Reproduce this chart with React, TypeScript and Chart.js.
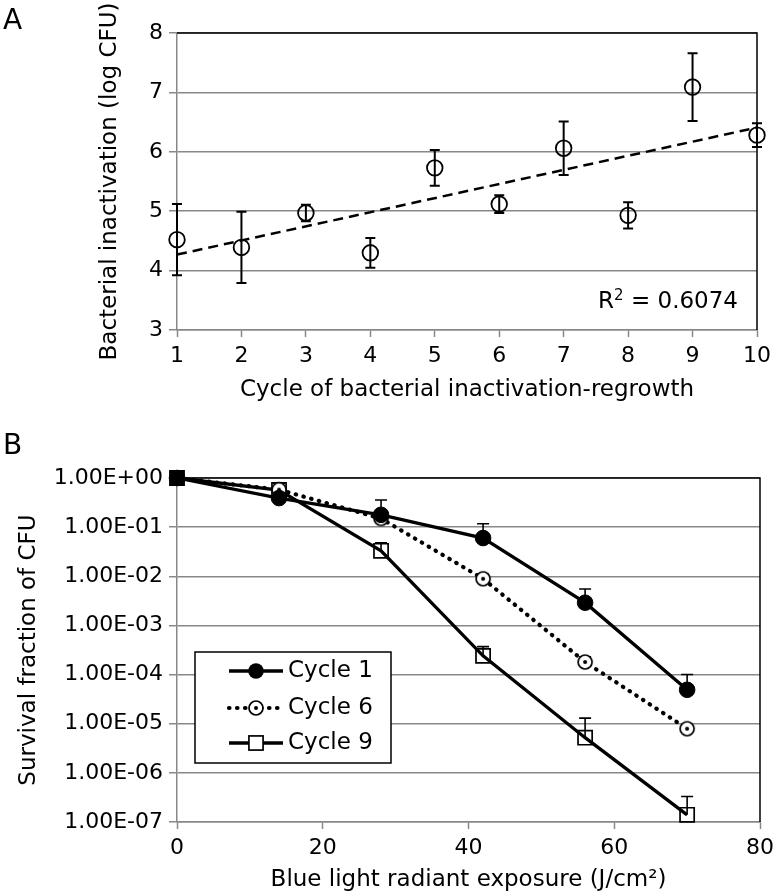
import React, { useEffect, useRef } from 'react';
import { Chart, registerables } from 'chart.js';

Chart.register(...registerables);

const FONT = "'DejaVu Sans', 'Liberation Sans', Arial, sans-serif";
const GRID = '#888888';
const INK = '#000000';

// ---------- Panel A data ----------
const cycles = [1, 2, 3, 4, 5, 6, 7, 8, 9, 10];
const inactivation = [4.52, 4.39, 4.97, 4.3, 5.73, 5.12, 6.06, 4.93, 7.09, 6.28];
const inactivationSd = [0.6, 0.6, 0.14, 0.25, 0.3, 0.15, 0.45, 0.22, 0.57, 0.2];
const rSquaredText = '0.6074';
const titleA_x = 'Cycle of bacterial inactivation-regrowth';
const titleA_y = 'Bacterial inactivation (log CFU)';

// ---------- Panel B data ----------
const exposure = [0, 14, 28, 42, 56, 70];
const cycle1Survival = [1, 0.39, 0.178, 0.06, 0.0029, 4.9e-5];
const cycle1Upper = [1, 0.39, 0.357, 0.117, 0.0055, 1.0e-4];
const cycle6Survival = [1, 0.58, 0.15, 0.0089, 1.8e-4, 7.9e-6];
const cycle6Upper = [1, 0.58, 0.15, 0.011, 2.3e-4, 9.0e-6];
const cycle9Survival = [1, 0.57, 0.033, 2.4e-4, 5.2e-6, 1.4e-7];
const cycle9Upper = [1, 0.78, 0.048, 3.7e-4, 1.3e-5, 3.3e-7];
const seriesLabels = ['Cycle 1', 'Cycle 6', 'Cycle 9'];
const yTicksB = [1, 1e-1, 1e-2, 1e-3, 1e-4, 1e-5, 1e-6, 1e-7];
const titleB_x = 'Blue light radiant exposure (J/cm\u00B2)';
const titleB_y = 'Survival fraction of CFU';

function linearFit(xs: number[], ys: number[]) {
  const n = xs.length;
  const mx = xs.reduce((a, b) => a + b, 0) / n;
  const my = ys.reduce((a, b) => a + b, 0) / n;
  let sxy = 0, sxx = 0;
  for (let i = 0; i < n; i++) {
    sxy += (xs[i] - mx) * (ys[i] - my);
    sxx += (xs[i] - mx) * (xs[i] - mx);
  }
  const slope = sxy / sxx;
  return { slope, intercept: my - slope * mx };
}

function sciLabel(v: number) {
  const e = Math.round(Math.log10(v));
  return '1.00E' + (e < 0 ? '-' : '+') + String(Math.abs(e)).padStart(2, '0');
}

function makeDotCircle(r: number) {
  const s = Math.ceil(2 * r + 4);
  const c = document.createElement('canvas');
  c.width = s;
  c.height = s;
  const ctx = c.getContext('2d')!;
  ctx.beginPath();
  ctx.arc(s / 2, s / 2, r, 0, Math.PI * 2);
  ctx.fillStyle = '#fff';
  ctx.fill();
  ctx.lineWidth = 1.7;
  ctx.strokeStyle = INK;
  ctx.stroke();
  ctx.beginPath();
  ctx.arc(s / 2, s / 2, 2, 0, Math.PI * 2);
  ctx.fillStyle = INK;
  ctx.fill();
  return c;
}

const errorBarPlugin = (capHalf: number, width: number, when: 'before' | 'after') => {
  const draw = (chart: any) => {
    const { ctx } = chart;
    const xs = chart.scales.x;
    const ys = chart.scales.y;
    chart.data.datasets.forEach((ds: any) => {
      if (!ds.errLow && !ds.errHigh) return;
      ds.data.forEach((p: any, i: number) => {
        const lo = ds.errLow ? ds.errLow[i] : p.y;
        const hi = ds.errHigh ? ds.errHigh[i] : p.y;
        if (lo === hi) return;
        const x = xs.getPixelForValue(p.x);
        const y1 = ys.getPixelForValue(lo);
        const y2 = ys.getPixelForValue(hi);
        ctx.save();
        ctx.strokeStyle = INK;
        ctx.lineWidth = width;
        ctx.beginPath();
        ctx.moveTo(x, y1);
        ctx.lineTo(x, y2);
        if (ds.errLow && lo !== p.y) {
          ctx.moveTo(x - capHalf, y1);
          ctx.lineTo(x + capHalf, y1);
        }
        if (hi !== p.y) {
          ctx.moveTo(x - capHalf, y2);
          ctx.lineTo(x + capHalf, y2);
        }
        ctx.stroke();
        ctx.restore();
      });
    });
  };
  return when === 'before'
    ? { id: 'errbars', beforeDatasetsDraw: draw }
    : { id: 'errbars', afterDatasetsDraw: draw };
};

const framePlugin = {
  id: 'frame',
  afterDraw(chart: any) {
    const { ctx, chartArea } = chart;
    const { left, right, top, bottom } = chartArea;
    ctx.save();
    ctx.strokeStyle = INK;
    ctx.lineWidth = 1.5;
    ctx.beginPath();
    ctx.moveTo(left, top);
    ctx.lineTo(right, top);
    ctx.lineTo(right, bottom);
    ctx.stroke();
    ctx.restore();
  },
};

const panelLabel = (text: string, y: number) => ({
  id: 'panelLabel',
  afterDraw(chart: any) {
    const { ctx } = chart;
    ctx.save();
    ctx.font = `28px ${FONT}`;
    ctx.fillStyle = INK;
    ctx.textBaseline = 'middle';
    ctx.textAlign = 'left';
    ctx.fillText(text, 3, y);
    ctx.restore();
  },
});

const r2Plugin = {
  id: 'r2',
  afterDraw(chart: any) {
    const { ctx, chartArea } = chart;
    const right = chartArea.right - 19;
    const base = chartArea.bottom - 22;
    ctx.save();
    ctx.fillStyle = INK;
    ctx.textBaseline = 'alphabetic';
    ctx.textAlign = 'left';
    const big = `23px ${FONT}`;
    const small = `15px ${FONT}`;
    ctx.font = big;
    const wR = ctx.measureText('R').width;
    const rest = ' = ' + rSquaredText;
    const wRest = ctx.measureText(rest).width;
    ctx.font = small;
    const w2 = ctx.measureText('2').width;
    let x = right - wRest - w2 - wR;
    ctx.font = big;
    ctx.fillText('R', x, base);
    x += wR;
    ctx.font = small;
    ctx.fillText('2', x, base - 8);
    x += w2;
    ctx.font = big;
    ctx.fillText(rest, x, base);
    ctx.restore();
  },
};

const legendPlugin = {
  id: 'customLegend',
  afterDraw(chart: any) {
    const { ctx, chartArea } = chart;
    const bx = chartArea.left + 18;
    const by = chartArea.top + 174;
    const bw = 196;
    const bh = 111;
    ctx.save();
    ctx.fillStyle = '#fff';
    ctx.fillRect(bx, by, bw, bh);
    ctx.strokeStyle = INK;
    ctx.lineWidth = 1.5;
    ctx.strokeRect(bx, by, bw, bh);
    const rows = [19, 56, 91];
    chart.data.datasets.forEach((ds: any, i: number) => {
      const y = by + rows[i];
      const x0 = bx + 34;
      const x1 = bx + 88;
      const xm = bx + 61;
      ctx.save();
      ctx.strokeStyle = ds.borderColor;
      ctx.lineWidth = ds.borderWidth;
      ctx.lineCap = ds.borderCapStyle || 'butt';
      ctx.setLineDash(ds.borderDash || []);
      ctx.beginPath();
      ctx.moveTo(x0, y);
      ctx.lineTo(x1, y);
      ctx.stroke();
      ctx.restore();
      const ps = ds.pointStyle;
      if (ps instanceof HTMLCanvasElement) {
        ctx.drawImage(ps, xm - ps.width / 2, y - ps.height / 2);
      } else if (ps === 'circle') {
        ctx.beginPath();
        ctx.arc(xm, y, ds.pointRadius, 0, Math.PI * 2);
        ctx.fillStyle = INK;
        ctx.fill();
      } else if (ps === 'rect') {
        const h = ds.pointRadius * Math.SQRT1_2;
        ctx.fillStyle = '#fff';
        ctx.fillRect(xm - h, y - h, 2 * h, 2 * h);
        ctx.lineWidth = ds.pointBorderWidth;
        ctx.strokeStyle = INK;
        ctx.strokeRect(xm - h, y - h, 2 * h, 2 * h);
      }
      ctx.fillStyle = INK;
      ctx.font = `23px ${FONT}`;
      ctx.textBaseline = 'middle';
      ctx.textAlign = 'left';
      ctx.fillText(ds.label, bx + 93, y);
    });
    ctx.restore();
  },
};

function configA(): any {
  const fit = linearFit(cycles, inactivation);
  const x0 = cycles[0];
  const x1 = cycles[cycles.length - 1];
  return {
    type: 'scatter',
    data: {
      datasets: [
        {
          label: 'Inactivation',
          data: cycles.map((x, i) => ({ x, y: inactivation[i] })),
          errLow: inactivation.map((v, i) => v - inactivationSd[i]),
          errHigh: inactivation.map((v, i) => v + inactivationSd[i]),
          showLine: false,
          pointStyle: 'circle',
          pointRadius: 7.8,
          pointBorderWidth: 1.8,
          pointBorderColor: INK,
          pointBackgroundColor: 'rgba(0,0,0,0)',
          clip: false,
        },
        {
          label: 'Linear fit',
          data: [
            { x: x0, y: fit.intercept + fit.slope * x0 },
            { x: x1, y: fit.intercept + fit.slope * x1 },
          ],
          showLine: true,
          borderColor: INK,
          borderWidth: 2.5,
          borderDash: [10, 6],
          pointRadius: 0,
          clip: false,
        },
      ],
    },
    options: {
      responsive: false,
      animation: false,
      devicePixelRatio: 1,
      layout: { padding: { left: 96, right: 23, top: 33, bottom: 0 } },
      plugins: { legend: { display: false }, tooltip: { enabled: false } },
      scales: {
        x: {
          type: 'linear',
          min: 1,
          max: 10,
          afterFit: (s: any) => { s.height = 80; },
          ticks: { stepSize: 1, padding: 6, font: { size: 22, family: FONT }, color: INK, maxRotation: 0 },
          grid: { drawOnChartArea: false, drawTicks: true, tickLength: 7, tickColor: GRID, tickWidth: 1.5 },
          border: { color: GRID, width: 1.5 },
          title: { display: true, text: titleA_x, color: INK, font: { size: 23, family: FONT }, padding: { top: 0, bottom: 6 } },
        },
        y: {
          type: 'linear',
          min: 3,
          max: 8,
          afterFit: (s: any) => { s.width = 81; },
          ticks: { stepSize: 1, padding: 6, font: { size: 22, family: FONT }, color: INK },
          grid: { color: GRID, lineWidth: 1.5, tickLength: 8, tickColor: GRID, tickWidth: 1.5 },
          border: { color: GRID, width: 1.5 },
          title: { display: true, text: titleA_y, color: INK, font: { size: 23, family: FONT }, padding: { top: 0, bottom: 0 } },
        },
      },
    },
    plugins: [framePlugin, errorBarPlugin(5, 2, 'after'), r2Plugin, panelLabel('A', 22)],
  };
}

function configB(): any {
  const dotCircle = makeDotCircle(7);
  return {
    type: 'scatter',
    data: {
      datasets: [
        {
          label: seriesLabels[0],
          data: exposure.map((x, i) => ({ x, y: cycle1Survival[i] })),
          errHigh: cycle1Upper,
          showLine: true,
          borderColor: INK,
          borderWidth: 3.3,
          pointStyle: 'circle',
          pointRadius: 7.8,
          pointBorderWidth: 1,
          pointBorderColor: INK,
          pointBackgroundColor: INK,
          clip: false,
        },
        {
          label: seriesLabels[1],
          data: exposure.map((x, i) => ({ x, y: cycle6Survival[i] })),
          errHigh: cycle6Upper,
          showLine: true,
          borderColor: INK,
          borderWidth: 4.2,
          borderDash: [0.5, 7.5],
          borderCapStyle: 'round',
          pointStyle: dotCircle,
          pointRadius: 7,
          clip: false,
        },
        {
          label: seriesLabels[2],
          data: exposure.map((x, i) => ({ x, y: cycle9Survival[i] })),
          errHigh: cycle9Upper,
          showLine: true,
          borderColor: INK,
          borderWidth: 3.3,
          pointStyle: 'rect',
          pointRadius: 10,
          pointBorderWidth: 1.7,
          pointBorderColor: INK,
          pointBackgroundColor: exposure.map((_, i) => (i === 0 ? INK : 'rgba(0,0,0,0)')),
          clip: false,
        },
      ],
    },
    options: {
      responsive: false,
      animation: false,
      devicePixelRatio: 1,
      layout: { padding: { left: 15, right: 20, top: 68, bottom: 0 } },
      plugins: { legend: { display: false }, tooltip: { enabled: false } },
      scales: {
        x: {
          type: 'linear',
          min: 0,
          max: 80,
          afterFit: (s: any) => { s.height = 74; },
          ticks: { stepSize: 20, padding: 6, font: { size: 22, family: FONT }, color: INK, maxRotation: 0 },
          grid: { drawOnChartArea: false, drawTicks: true, tickLength: 7, tickColor: GRID, tickWidth: 1.5 },
          border: { color: GRID, width: 1.5 },
          title: { display: true, text: titleB_x, color: INK, font: { size: 23, family: FONT }, padding: { top: 0, bottom: 2 } },
        },
        y: {
          type: 'logarithmic',
          min: 1e-7,
          max: 1,
          afterFit: (s: any) => { s.width = 162; },
          afterBuildTicks: (s: any) => { s.ticks = yTicksB.map((v) => ({ value: v })); },
          ticks: { padding: 6, font: { size: 22, family: FONT }, color: INK, callback: (v: any) => sciLabel(Number(v)) },
          grid: { color: GRID, lineWidth: 1.5, tickLength: 8, tickColor: GRID, tickWidth: 1.5 },
          border: { color: GRID, width: 1.5 },
          title: { display: true, text: titleB_y, color: INK, font: { size: 23, family: FONT }, padding: { top: 0, bottom: 0 } },
        },
      },
    },
    plugins: [framePlugin, errorBarPlugin(6, 1.6, 'before'), legendPlugin, panelLabel('B', 37)],
  };
}

export default function App() {
  const refA = useRef<HTMLCanvasElement>(null);
  const refB = useRef<HTMLCanvasElement>(null);
  useEffect(() => {
    Chart.defaults.font.family = FONT;
    Chart.defaults.color = INK;
    const a = new Chart(refA.current!, configA());
    const b = new Chart(refB.current!, configB());
    return () => {
      a.destroy();
      b.destroy();
    };
  }, []);
  return (
    <div style={{ position: 'absolute', left: 0, top: 0, width: 780, height: 896, background: '#fff' }}>
      <canvas ref={refA} width={780} height={410} style={{ position: 'absolute', left: 0, top: 0 }} />
      <canvas ref={refB} width={780} height={486} style={{ position: 'absolute', left: 0, top: 410 }} />
    </div>
  );
}
